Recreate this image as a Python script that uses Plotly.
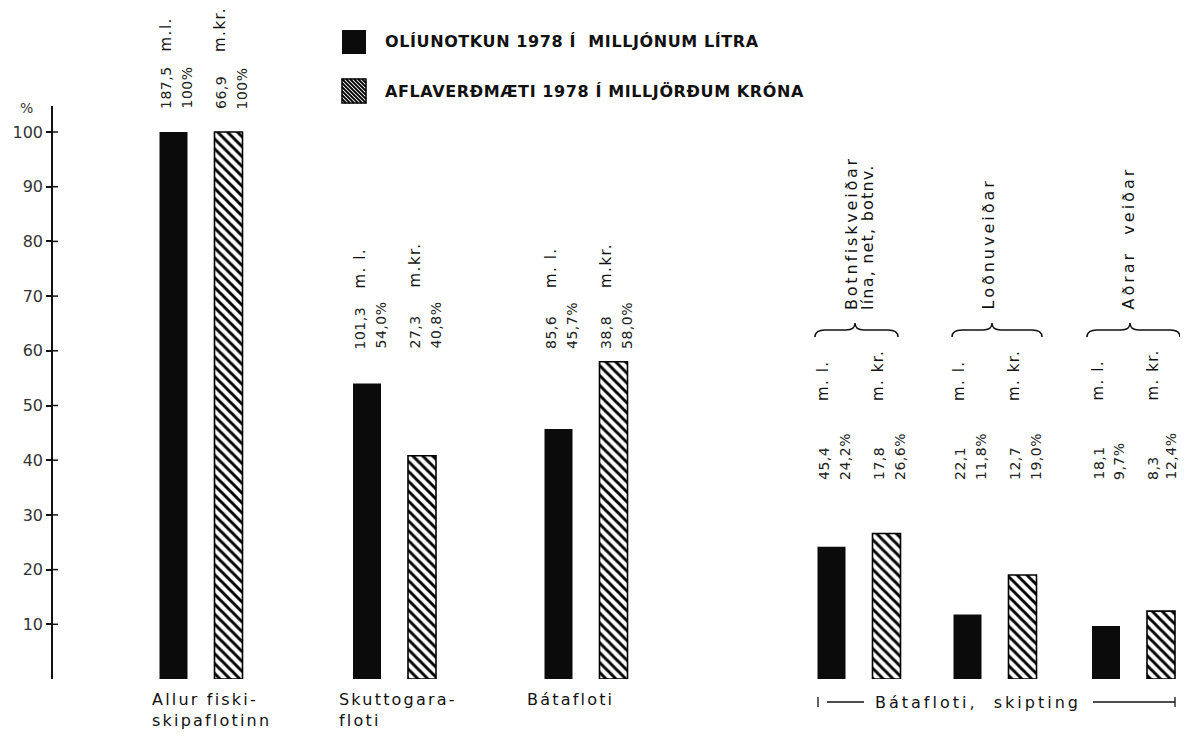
import plotly.graph_objects as go

# ---------------- data ----------------
groups = ["Allur fiskiskipaflotinn", "Skuttogarafloti", "Bátafloti",
          "Botnfiskveiðar", "Loðnuveiðar", "Aðrar veiðar"]
oil_million_litres = [187.5, 101.3, 85.6, 45.4, 22.1, 18.1]
oil_pct = [100.0, 54.0, 45.7, 24.2, 11.8, 9.7]
catch_billion_kr = [66.9, 27.3, 38.8, 17.8, 12.7, 8.3]
catch_pct = [100.0, 40.8, 58.0, 26.6, 19.0, 12.4]
oil_unit = ["m.l.", "m. l.", "m. l.", "m. l.", "m. l.", "m. l."]
catch_unit = ["m.kr.", "m.kr.", "m.kr.", "m. kr.", "m. kr.", "m. kr."]
y_ticks = [10, 20, 30, 40, 50, 60, 70, 80, 90, 100]
legend_labels = ["OLÍUNOTKUN 1978 Í  MILLJÓNUM LÍTRA",
                 "AFLAVERÐMÆTI 1978 Í MILLJÖRÐUM KRÓNA"]
bottom_labels = [["Allur fiski-", "skipaflotinn"], ["Skuttogara-", "floti"], ["Bátafloti"]]
sub_headers = [["Botnfiskveiðar", "lína, net, botnv."], ["Loðnuveiðar"], ["Aðrar  veiðar"]]
sub_footer = "Bátafloti,  skipting"

# ---------------- layout constants (reference-pixel geometry) ----------------
PAGE_MARGIN = 8                  # browser body margin
W, H = 1188 - 2 * PAGE_MARGIN, 737 - 2 * PAGE_MARGIN
AX_X, PLOT_TOP, PLOT_BOTTOM, RIGHT = 53, 106, 679, 1180   # in reference pixels
L = AX_X - PAGE_MARGIN
T = PLOT_TOP - PAGE_MARGIN
B = H - (PLOT_BOTTOM - PAGE_MARGIN)
PX_PER_UNIT = 5.47
GROUP_X = [201, 394.5, 586, 859, 995, 1133.5]   # group centres (pixel-scaled x axis)
BAR_W = 28
FONT = "DejaVu Sans"
INK = "#111111"


def fx(px):
    return (px - AX_X) / (RIGHT - AX_X)


def fy(py):
    return (PLOT_BOTTOM - py) / (PLOT_BOTTOM - PLOT_TOP)


def fmt_num(v):
    return f"{v:.1f}".replace(".", ",")


def fmt_pct(v):
    return "100%" if v == 100 else fmt_num(v) + "%"


def spaced(s, ls):
    return f'<span style="letter-spacing:{ls}px">{s}</span>'


fig = go.Figure()
fig.add_trace(go.Bar(
    x=GROUP_X, y=oil_pct, width=BAR_W, offset=-41.5,
    marker=dict(color="#0b0b0b", line=dict(width=0)),
    name=legend_labels[0], hoverinfo="skip"))
fig.add_trace(go.Bar(
    x=GROUP_X, y=catch_pct, width=BAR_W, offset=13.5,
    marker=dict(color="white", line=dict(color="black", width=1.6),
                pattern=dict(shape="\\", fgcolor="black", bgcolor="white",
                             size=7, solidity=0.42, fillmode="replace")),
    name=legend_labels[1], hoverinfo="skip"))

ann = []
shapes = []


def text(x, y, s, size=14, color=INK, angle=0, xanchor="center", yanchor="middle",
         align="center", family=FONT):
    ann.append(dict(x=fx(x), y=fy(y), xref="paper", yref="paper", text=s,
                    textangle=angle, xanchor=xanchor, yanchor=yanchor, align=align,
                    showarrow=False, font=dict(family=family, size=size, color=color)))


# value labels (rotated)
val_bottom = [111, 351, 351, 482, 482, 482]
unit_bottom = [54, 290, 290, 403, 403, 403]
for i, gx in enumerate(GROUP_X):
    for val, pct, unit, off in [
            (oil_million_litres[i], oil_pct[i], oil_unit[i], -27.5),
            (catch_billion_kr[i], catch_pct[i], catch_unit[i], 27.5)]:
        bc = gx + off
        text(bc - 8, val_bottom[i], spaced(fmt_num(val), 0.5), 14, "#222", -90,
             yanchor="bottom")
        text(min(bc + 13, 1170), val_bottom[i], spaced(fmt_pct(pct), 0.5), 14, "#222", -90,
             yanchor="bottom")
        text(bc - 8, unit_bottom[i], spaced(unit, 1.5), 15, INK, -90, yanchor="bottom")

# sub-group headers with braces
brace_spans = [(815, 855, 898), (952, 992, 1042), (1087, 1130, 1180)]
header_x = [[851, 867], [988], [1128]]
header_ls = [[2.8, 1.2], [3], [3]]
for (x0, xm, x1), hx, lines, lss in zip(brace_spans, header_x, sub_headers, header_ls):
    for xx, s, ls in zip(hx, lines, lss):
        text(xx, 312, spaced(s, ls), 16, INK, -90, yanchor="bottom")
    path = (f"M {fx(x0)},{fy(337)} Q {fx(x0)},{fy(330)} {fx(x0+10)},{fy(330)} "
            f"L {fx(xm-9)},{fy(330)} Q {fx(xm)},{fy(330)} {fx(xm)},{fy(323)} "
            f"Q {fx(xm)},{fy(330)} {fx(xm+9)},{fy(330)} "
            f"L {fx(x1-10)},{fy(330)} Q {fx(x1)},{fy(330)} {fx(x1)},{fy(337)}")
    shapes.append(dict(type="path", xref="paper", yref="paper", path=path,
                       line=dict(color=INK, width=1.5)))

# category labels under bars
label_x = [150, 337, 525]
for lx, lines in zip(label_x, bottom_labels):
    s = "<br>".join(spaced(ln, 2.2) for ln in lines)
    text(lx, 688, s, 16, INK, 0, xanchor="left", yanchor="top", align="left")

# "Bátafloti, skipting" span
text(978, 702, spaced(sub_footer, 3), 16, INK)
for a, b in [(827, 864), (1093, 1175)]:
    shapes.append(dict(type="line", xref="paper", yref="paper", x0=fx(a), x1=fx(b),
                       y0=fy(702), y1=fy(702), line=dict(color=INK, width=1.3)))
for xt in (818, 1175):
    shapes.append(dict(type="line", xref="paper", yref="paper", x0=fx(xt), x1=fx(xt),
                       y0=fy(697), y1=fy(707), line=dict(color=INK, width=1.3)))

# legend (drawn manually)
shapes.append(dict(type="rect", xref="paper", yref="paper", x0=fx(342), x1=fx(366),
                   y0=fy(54), y1=fy(30), fillcolor="#0b0b0b", line=dict(width=0)))
shapes.append(dict(type="rect", xref="paper", yref="paper", x0=fx(342), x1=fx(366),
                   y0=fy(103), y1=fy(79), fillcolor="white",
                   line=dict(color="black", width=1.5)))
sx0, sx1, sy0, sy1 = 342, 366, 79, 103
for k in range(-20, 24, 4):
    xa, ya = (sx0 + k, sy0) if k >= 0 else (sx0, sy0 - k)
    xb, yb = (sx1, sy1 - k) if k >= 0 else (sx1 + k, sy1)
    shapes.append(dict(type="line", xref="paper", yref="paper", x0=fx(xa), y0=fy(ya),
                       x1=fx(xb), y1=fy(yb), line=dict(color="black", width=1.8)))
for yy, s in zip([42, 91], legend_labels):
    text(383, yy, "<b>" + spaced(s, 0.6) + "</b>", 16, INK, 0, xanchor="left")

# "%" axis unit
text(26, 108, "%", 14, "#333")

# inner halves of the crossing y ticks
for t in y_ticks:
    shapes.append(dict(type="line", xref="paper", yref="y", x0=0, x1=fx(58),
                       y0=t, y1=t, line=dict(color=INK, width=1.5)))

fig.update_layout(
    width=W, height=H,
    margin=dict(l=L, r=0, t=T, b=B, pad=0),
    paper_bgcolor="white", plot_bgcolor="white",
    showlegend=False,
    xaxis=dict(range=[AX_X, RIGHT], visible=False),
    yaxis=dict(range=[0, (PLOT_BOTTOM - PLOT_TOP) / PX_PER_UNIT], tickvals=y_ticks,
               ticks="outside", ticklen=5, tickwidth=1.5, tickcolor=INK,
               showline=True, linecolor=INK, linewidth=1.6,
               showgrid=False, zeroline=False,
               tickfont=dict(family=FONT, size=16, color="#333")),
    annotations=ann, shapes=shapes,
)

fig.write_html("out.html")
